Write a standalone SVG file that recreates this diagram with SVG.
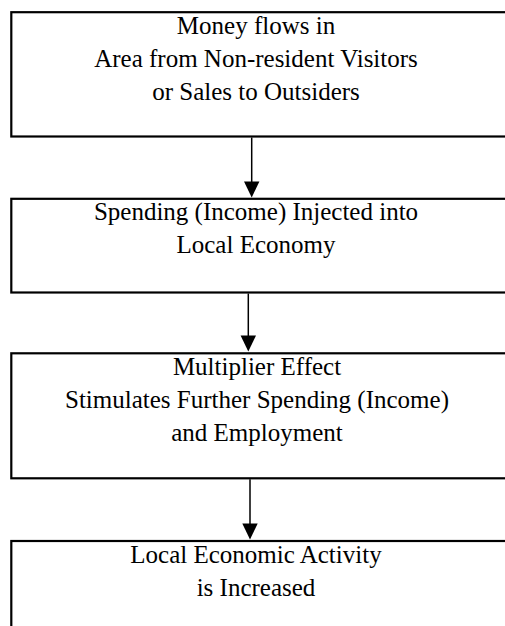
<svg xmlns="http://www.w3.org/2000/svg" width="505" height="626" viewBox="0 0 505 626">
<defs>
<style>
.box{fill:#fff;stroke:#000;stroke-width:2.2}
.t{font-family:"Liberation Serif","Times New Roman",serif;font-size:25px;fill:#000;text-anchor:middle}
.c{stroke:#000;stroke-width:1.5;fill:none}
.h{fill:#000;stroke:none}
</style>
</defs>
<rect width="505" height="626" fill="#fff"/>
<g id="node1">
<rect class="box" x="11.3" y="12.2" width="520" height="124.3"/>
<text class="t" x="256" y="34">Money flows in</text>
<text class="t" x="256" y="67">Area from Non-resident Visitors</text>
<text class="t" x="256" y="100">or Sales to Outsiders</text>
</g>
<g id="node2">
<rect class="box" x="11.3" y="198.8" width="520" height="93.7"/>
<text class="t" x="256" y="220">Spending (Income) Injected into</text>
<text class="t" x="256" y="253">Local Economy</text>
</g>
<g id="node3">
<rect class="box" x="11.3" y="353.3" width="520" height="125"/>
<text class="t" x="257" y="375">Multiplier Effect</text>
<text class="t" x="257" y="408">Stimulates Further Spending (Income)</text>
<text class="t" x="257" y="441">and Employment</text>
</g>
<g id="node4">
<rect class="box" x="11.3" y="541" width="520" height="120"/>
<text class="t" x="256" y="563">Local Economic Activity</text>
<text class="t" x="256" y="596">is Increased</text>
</g>
<g id="connectors">
<line class="c" x1="251.7" y1="137.5" x2="251.7" y2="183"/>
<polygon class="h" points="244,181.5 259.4,181.5 251.7,197.5"/>
<line class="c" x1="248.3" y1="293.5" x2="248.3" y2="337"/>
<polygon class="h" points="240.6,335.5 256,335.5 248.3,351.5"/>
<line class="c" x1="250" y1="479.3" x2="250" y2="525"/>
<polygon class="h" points="242.3,523.5 257.7,523.5 250,539.5"/>
</g>
</svg>
